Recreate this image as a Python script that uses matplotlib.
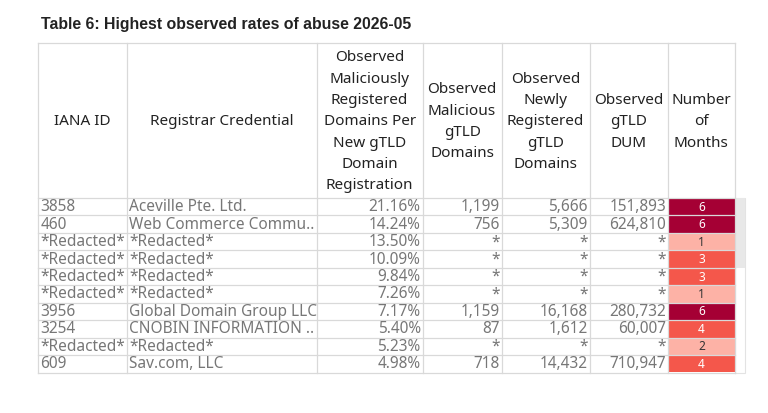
import matplotlib
matplotlib.use("Agg")
import matplotlib.pyplot as plt
from matplotlib.patches import Rectangle

title = "Table 6: Highest observed rates of abuse 2026-05"
headers = ["IANA ID", "Registrar Credential",
           "Observed\nMaliciously\nRegistered\nDomains Per\nNew gTLD\nDomain\nRegistration",
           "Observed\nMalicious\ngTLD\nDomains",
           "Observed\nNewly\nRegistered\ngTLD\nDomains",
           "Observed\ngTLD\nDUM",
           "Number\nof\nMonths"]
iana_id = ["3858", "460", "*Redacted*", "*Redacted*", "*Redacted*", "*Redacted*",
           "3956", "3254", "*Redacted*", "609"]
registrar = ["Aceville Pte. Ltd.", "Web Commerce Commu..", "*Redacted*", "*Redacted*",
             "*Redacted*", "*Redacted*", "Global Domain Group LLC", "CNOBIN INFORMATION ..",
             "*Redacted*", "Sav.com, LLC"]
rate = ["21.16%", "14.24%", "13.50%", "10.09%", "9.84%", "7.26%", "7.17%", "5.40%", "5.23%", "4.98%"]
malicious = ["1,199", "756", "*", "*", "*", "*", "1,159", "87", "*", "718"]
newly_reg = ["5,666", "5,309", "*", "*", "*", "*", "16,168", "1,612", "*", "14,432"]
dum = ["151,893", "624,810", "*", "*", "*", "*", "280,732", "60,007", "*", "710,947"]
months = [6, 6, 1, 3, 3, 1, 6, 4, 2, 4]

FONT = "Noto Sans"
W, H = 768, 413
fig = plt.figure(figsize=(W / 100, H / 100), dpi=100)
ax = fig.add_axes([0, 0, 1, 1])
ax.set_xlim(0, W)
ax.set_ylim(H, 0)
ax.axis("off")

cols = [38, 126.5, 316.5, 422.7, 501.5, 589.5, 668.3, 734.5]
top, hdr_bot, row_h = 42.7, 198.0, 17.45
n = len(iana_id)
bottom = hdr_bot + n * row_h
grid = "#d9d9d9"

# scrollbar-ish area
ax.add_patch(Rectangle((734.5, hdr_bot), 10.5, bottom - hdr_bot, facecolor="white",
                       edgecolor="#e3e3e3", lw=0.8, zorder=1))
ax.add_patch(Rectangle((734.5, hdr_bot), 10.5, 70, facecolor="#e8e8e8",
                       edgecolor="none", zorder=1.5))

def heat_color(v):
    if v >= 5:
        return "#a50034"
    if v >= 3:
        return "#f4574b"
    return "#fdb2a6"

for i, m in enumerate(months):
    y0 = hdr_bot + i * row_h
    ax.add_patch(Rectangle((cols[6], y0), cols[7] - cols[6], row_h,
                           facecolor=heat_color(m), edgecolor="none", zorder=2))
    ax.text((cols[6] + cols[7]) / 2, y0 + row_h / 2 + 0.5, str(m), ha="center", va="center",
            fontsize=8.5, family=FONT, fontweight="bold",
            color="white" if m >= 3 else "#333333", zorder=4)

# grid lines
for x in cols:
    ax.plot([x, x], [top, bottom], color=grid, lw=0.9, zorder=3)
ax.plot([cols[0], cols[-1]], [top, top], color=grid, lw=0.9, zorder=3)
for i in range(n + 1):
    y = hdr_bot + i * row_h
    ax.plot([cols[0], cols[-1]], [y, y], color=grid, lw=0.9, zorder=3)

# title
ax.text(41, 24, title, ha="left", va="center", fontsize=11.4, fontweight="bold",
        family="Liberation Sans", color="#222222")

# headers
for j, h in enumerate(headers):
    ax.text((cols[j] + cols[j + 1]) / 2, (top + hdr_bot) / 2 + 1.5, h, ha="center", va="center",
            fontsize=11, family=FONT, color="#222222", linespacing=1.58, multialignment="center")

body_color = "#777777"
columns = [iana_id, registrar, rate, malicious, newly_reg, dum]
for i in range(n):
    yc = hdr_bot + i * row_h + row_h / 2 + 0.5
    for j, col in enumerate(columns):
        if j < 2:
            ax.text(cols[j] + 2.5, yc, col[i], ha="left", va="center", fontsize=11.1,
                    family=FONT, color=body_color)
        else:
            ax.text(cols[j + 1] - 2, yc, col[i], ha="right", va="center", fontsize=11.1,
                    family=FONT, color=body_color)

fig.savefig("out.png", dpi=100, facecolor="white")
